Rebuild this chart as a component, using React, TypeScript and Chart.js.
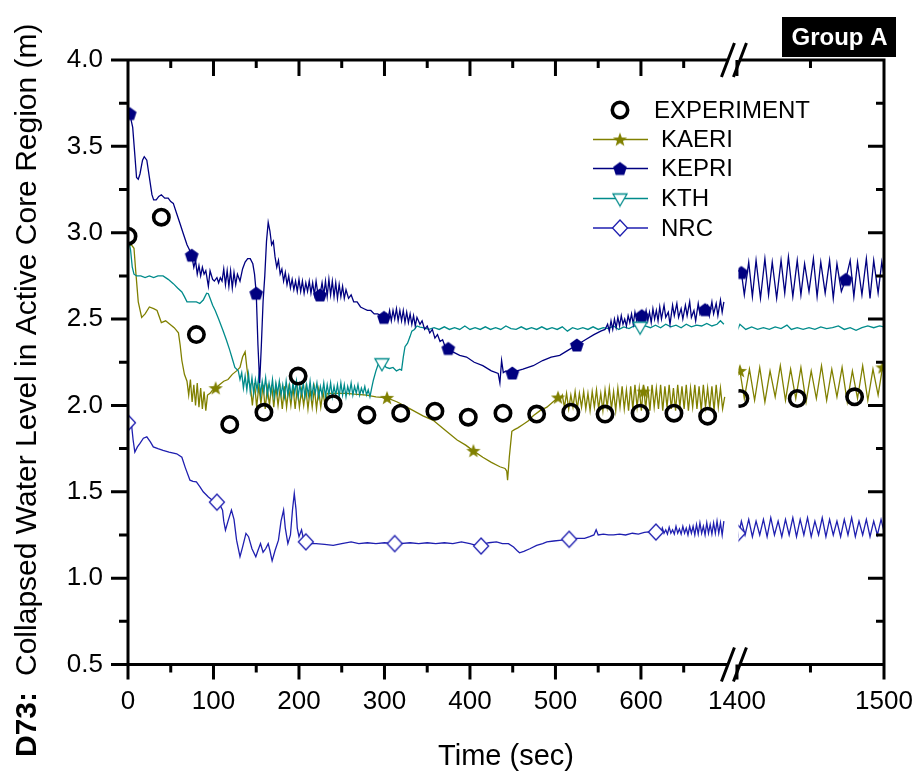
import React, { useEffect, useRef } from 'react';
import { Chart, registerables, LinearScale } from 'chart.js';

Chart.register(...registerables);

const FONT = "'Liberation Sans', Arial, Helvetica, sans-serif";

// ---------------- axis ticks ----------------
const X_TICKS = [0, 50, 100, 150, 200, 250, 300, 350, 400, 450, 500, 550, 600, 650, 1400, 1450, 1500];
const X_LABELS = [0, 100, 200, 300, 400, 500, 600, 1400, 1500];
const Y_TICKS = [0.5, 0.75, 1, 1.25, 1.5, 1.75, 2, 2.25, 2.5, 2.75, 3, 3.25, 3.5, 3.75, 4];
const Y_LABELS = [0.5, 1, 1.5, 2, 2.5, 3, 3.5, 4];

// ---------------- data (time s, level m) ----------------
const EXPERIMENT: [number, number][] = [
  [0, 2.98], [39, 3.09], [80, 2.41], [119, 1.89], [159, 1.96], [199, 2.17], [240, 2.01], [279.5, 1.945],
  [319, 1.955], [359, 1.967], [398, 1.932], [438.6, 1.955], [478, 1.95], [518, 1.961], [558, 1.95],
  [599, 1.955], [638.6, 1.955], [678, 1.938], [1402, 2.04], [1441, 2.04], [1480, 2.05],
];

const KAERI: [number, number][] = [
  [0, 2.92], [4, 2.93], [7, 2.91], [9, 2.78], [12, 2.6], [16, 2.51], [20, 2.53], [25, 2.57], [30, 2.56], [34, 2.55],
  [39, 2.48], [44, 2.49], [49, 2.47], [54, 2.45], [59, 2.42], [61, 2.35], [63, 2.26], [66, 2.18], [69, 2.14],
  [71, 2.06], [73, 2.15], [75, 2.02], [77, 2.12], [79, 2.0], [81, 2.13], [83, 1.99], [85, 2.1], [87, 1.98],
  [89, 2.08], [91, 1.97], [93, 2.06], [96, 2.07], [99, 2.09], [102.5, 2.1], [107, 2.12], [112, 2.14], [117, 2.15],
  [122, 2.18], [127, 2.2], [131, 2.22], [134, 2.28], [137, 2.31], [139, 2.22], [141, 2.14],
  [143, 2.12], [145.5, 2.0], [148, 2.13], [150.5, 1.99], [153, 2.11], [155.5, 2.01], [158, 2.12], [160.5, 1.98],
  [163, 2.1], [165.5, 2.0], [168, 2.12], [170.5, 1.99], [173, 2.11], [175.5, 2.0], [178, 2.1], [180.5, 1.98],
  [183, 2.11], [185.5, 1.99], [188, 2.1], [190.5, 2.0], [193, 2.11], [195.5, 1.98], [198, 2.1], [200.5, 1.99],
  [203, 2.09], [205.5, 2.0], [208, 2.1], [210.5, 1.98], [213, 2.09], [215.5, 1.99], [218, 2.1], [220.5, 1.98],
  [223, 2.09], [225.5, 1.99], [228, 2.08], [230.5, 2.0], [233, 2.07],
  [236, 2.07], [245, 2.07], [255, 2.07], [265, 2.065], [279, 2.06], [290, 2.05], [303, 2.044], [315, 2.02],
  [330, 1.98], [345, 1.94], [357, 1.914], [370, 1.86], [385, 1.8], [395, 1.77], [404, 1.737], [415, 1.7],
  [425, 1.67], [435, 1.645], [441, 1.635], [443, 1.62], [444, 1.567], [446, 1.7], [449, 1.85], [452, 1.86],
  [456, 1.87], [462, 1.89], [468, 1.91], [474, 1.94], [482, 1.97], [490, 1.99], [497, 2.02], [503, 2.046], [506, 2.04],
  [508, 2.06], [510.5, 1.99], [513, 2.07], [515.5, 1.98], [518, 2.06], [520.5, 1.99], [523, 2.08], [525.5, 1.98],
  [528, 2.07], [530.5, 1.99], [533, 2.08], [535.5, 1.98], [538, 2.07], [540.5, 1.97], [543, 2.08], [545.5, 1.99],
  [548, 2.09], [550.5, 1.98], [553, 2.07], [555.5, 1.97], [558, 2.09], [560.5, 1.99], [563, 2.1], [565.5, 1.98],
  [568, 2.08], [570.5, 1.97], [573, 2.1], [575.5, 1.99], [578, 2.11], [580.5, 1.98], [583, 2.09], [585.5, 1.97],
  [588, 2.11], [590.5, 1.98], [593, 2.12], [595.5, 1.99], [598, 2.1], [600.5, 1.97], [603, 2.12], [605.5, 1.98],
  [608, 2.11], [610.5, 1.97], [613, 2.12], [615.5, 1.99], [618, 2.1], [620.5, 1.98], [623, 2.12], [625.5, 1.97],
  [628, 2.11], [630.5, 1.99], [633, 2.12], [635.5, 1.98], [638, 2.1], [640.5, 1.97], [643, 2.12], [645.5, 1.99],
  [648, 2.11], [650.5, 1.98], [653, 2.12], [655.5, 1.97], [658, 2.1], [660.5, 1.99], [663, 2.12], [665.5, 1.98],
  [668, 2.11], [670.5, 1.97], [673, 2.12], [675.5, 1.99], [678, 2.1], [680.5, 1.98], [683, 2.11], [685.5, 1.97],
  [688, 2.12], [690.5, 1.99], [693, 2.1], [695.5, 1.98], [698, 2.05],
  [1400, 2.18], [1402, 2.2], [1405, 2.04], [1408.5, 2.21], [1412, 2.03], [1415.5, 2.22], [1419, 2.02], [1422.5, 2.2],
  [1426, 2.05], [1429.5, 2.23], [1433, 2.03], [1436.5, 2.21], [1440, 2.04], [1443.5, 2.22], [1447, 2.02], [1450.5, 2.2],
  [1454, 2.04], [1457.5, 2.23], [1461, 2.03], [1464.5, 2.21], [1468, 2.05], [1471.5, 2.22], [1475, 2.02], [1478.5, 2.2],
  [1482, 2.04], [1485.5, 2.23], [1489, 2.03], [1492.5, 2.21], [1496, 2.06], [1499, 2.22], [1500, 2.2],
];
const KAERI_MARKS: [number, number][] = [
  [102.5, 2.1], [303, 2.044], [404, 1.737], [503, 2.046], [603, 2.08], [1402, 2.2], [1499, 2.22],
];

const KEPRI: [number, number][] = [
  [0, 3.7], [2, 3.69], [5.5, 3.61], [8, 3.45], [10, 3.32], [12, 3.31], [14, 3.34], [17, 3.42], [19, 3.44], [22, 3.42],
  [25, 3.32], [28, 3.22], [30, 3.19], [33, 3.19], [36, 3.21], [39, 3.22], [43, 3.2], [47, 3.2], [50, 3.18], [53, 3.17],
  [57, 3.11], [61, 3.05], [65, 2.99], [69, 2.93], [72, 2.9], [74.5, 2.87], [77, 2.8], [79, 2.84], [81, 2.76], [83, 2.81],
  [85, 2.75], [87, 2.8], [89, 2.76], [91, 2.78], [94, 2.69], [96, 2.78], [99, 2.73], [101, 2.72], [104, 2.74],
  [106, 2.71], [108, 2.74], [110, 2.72], [112, 2.79], [114, 2.7], [116, 2.78], [118, 2.69], [120, 2.78], [122, 2.68],
  [124, 2.77], [126, 2.7], [128, 2.76], [131, 2.72], [134, 2.79], [137, 2.83], [140, 2.85], [143, 2.85], [146, 2.82],
  [148, 2.76], [150, 2.65], [152, 2.35], [154, 2.13], [156, 2.35], [158, 2.6], [160, 2.75], [162, 2.95], [164, 3.06],
  [166, 3.01], [168, 2.93], [170, 2.95], [172, 2.86], [174, 2.8], [176, 2.84], [178, 2.76], [180, 2.79], [182, 2.72],
  [184, 2.77], [186, 2.7], [188, 2.75], [190, 2.68], [192, 2.73], [194, 2.67], [196, 2.72], [198, 2.66], [200, 2.73],
  [202, 2.66], [204, 2.72], [206, 2.65], [208, 2.71], [210, 2.66], [212, 2.72], [214, 2.65], [216, 2.71], [218, 2.64],
  [220, 2.72], [222, 2.65], [224.6, 2.64], [227, 2.71], [229, 2.64], [231, 2.72], [233, 2.63], [235, 2.73], [237, 2.64],
  [239, 2.72], [241, 2.63], [243, 2.71], [245, 2.62], [247, 2.7], [249, 2.63], [251, 2.69], [253, 2.62], [255, 2.67],
  [258, 2.62], [261, 2.64], [264, 2.6], [268, 2.6], [272, 2.57], [276, 2.56], [280, 2.55], [284, 2.55], [288, 2.53],
  [292, 2.53], [296, 2.52], [299.4, 2.51], [302, 2.53], [304, 2.5], [306, 2.55], [308, 2.49], [310, 2.55], [312, 2.5],
  [314, 2.56], [316, 2.49], [318, 2.55], [320, 2.49], [322, 2.55], [324, 2.48], [326, 2.54], [328, 2.48], [330, 2.53],
  [332, 2.47], [334, 2.52], [336, 2.46], [338, 2.51], [341.5, 2.47], [344, 2.49], [347, 2.44], [350, 2.46], [353, 2.42],
  [356, 2.44], [359, 2.39], [362, 2.41], [365, 2.37], [368, 2.38], [371, 2.34], [374.6, 2.33], [380, 2.31], [388, 2.29],
  [396, 2.28], [405, 2.25], [415, 2.23], [425, 2.2], [433, 2.185], [435, 2.13], [437, 2.26], [439, 2.19], [442, 2.2],
  [446, 2.19], [449.5, 2.188], [455, 2.2], [462, 2.21], [474, 2.23], [485, 2.26], [495, 2.28], [505, 2.29], [515, 2.32],
  [525, 2.35], [535, 2.38], [545, 2.41], [553, 2.43], [558, 2.44], [561, 2.47], [563, 2.43], [565, 2.49], [567, 2.44],
  [569, 2.5], [571, 2.45], [573, 2.51], [575, 2.46], [577, 2.52], [579, 2.47], [581, 2.5], [583, 2.46], [585, 2.52],
  [587, 2.48], [589, 2.53], [591, 2.47], [593, 2.54], [595, 2.49], [597, 2.52], [601, 2.52], [604, 2.5], [606, 2.55],
  [608, 2.49], [610, 2.54], [612, 2.48], [614, 2.56], [616, 2.5], [618, 2.55], [620, 2.49], [622, 2.57], [624, 2.5],
  [627, 2.58], [629, 2.51], [632, 2.54], [634, 2.47], [637, 2.58], [639, 2.52], [642, 2.59], [644, 2.51], [647, 2.56],
  [649, 2.5], [652, 2.58], [654, 2.52], [657, 2.6], [659, 2.51], [662, 2.55], [664, 2.49], [667, 2.59], [669, 2.53],
  [672, 2.57], [675, 2.555], [678, 2.58], [680, 2.52], [683, 2.6], [685, 2.53], [688, 2.59], [690, 2.52], [693, 2.61],
  [695, 2.54], [697, 2.6],
  [1400, 2.77], [1401, 2.78], [1403, 2.77], [1405, 2.64], [1408, 2.83], [1410.5, 2.63], [1413, 2.84], [1416, 2.62],
  [1419, 2.85], [1421.5, 2.64], [1424, 2.83], [1427, 2.62], [1430, 2.84], [1432.5, 2.65], [1435, 2.86], [1438, 2.63],
  [1441, 2.84], [1443.5, 2.64], [1446, 2.82], [1449, 2.66], [1452, 2.85], [1454.5, 2.63], [1457, 2.83], [1460, 2.65],
  [1463, 2.84], [1465.5, 2.62], [1468, 2.82], [1471, 2.66], [1474, 2.73], [1477, 2.84], [1479.5, 2.63], [1482, 2.83],
  [1485, 2.64], [1488, 2.85], [1490.5, 2.62], [1493, 2.84], [1496, 2.65], [1498.5, 2.83], [1500, 2.75],
];
const KEPRI_MARKS: [number, number][] = [
  [2, 3.69], [74.5, 2.87], [150, 2.65], [224.6, 2.64], [299.4, 2.51], [374.6, 2.33], [449.5, 2.188], [525, 2.35],
  [601, 2.52], [675, 2.555], [1403, 2.77], [1474, 2.73],
];

const KTH: [number, number][] = [
  [0, 2.93], [1.5, 2.94], [3, 2.9], [5, 2.8], [7, 2.76], [10, 2.75], [15, 2.75], [20, 2.74], [25, 2.75], [30, 2.74],
  [35, 2.75], [41, 2.75], [47, 2.73], [53, 2.705], [58, 2.68], [63, 2.657], [66, 2.63], [69, 2.6], [74, 2.6], [80, 2.6],
  [84, 2.59], [88, 2.61], [90, 2.63], [92, 2.65], [94, 2.647], [96, 2.62], [99, 2.58], [102, 2.55], [106, 2.5],
  [111, 2.435], [115, 2.38], [119, 2.32], [122, 2.27], [125, 2.22], [129, 2.2],
  [131, 2.15], [133, 2.19], [135, 2.1], [137, 2.17], [139, 2.09], [141, 2.18], [143, 2.08], [145, 2.16], [147, 2.07],
  [149, 2.15], [151, 2.09], [153, 2.17], [155, 2.06], [157, 2.14], [159, 2.08], [161, 2.16], [163, 2.06], [165, 2.13],
  [167, 2.07], [169, 2.15], [171, 2.05], [173, 2.13], [175, 2.07], [177, 2.14], [179, 2.06], [181, 2.12], [183, 2.05],
  [185, 2.14], [187, 2.06], [189, 2.12], [191, 2.05], [193, 2.13], [195, 2.07], [197, 2.14], [199, 2.05], [201, 2.12],
  [203, 2.06], [205, 2.13], [207, 2.05], [209, 2.12], [211, 2.06], [213, 2.14], [215, 2.05], [217, 2.12], [219, 2.07],
  [221, 2.13], [223, 2.05], [225, 2.11], [227, 2.06], [229, 2.13], [231, 2.05], [233, 2.12], [235, 2.06], [237, 2.13],
  [239, 2.05], [241, 2.11], [243, 2.06], [245, 2.12], [247, 2.05], [249, 2.13], [251, 2.06], [253, 2.12], [255, 2.05],
  [257, 2.11], [259, 2.07], [261, 2.13], [263, 2.06], [265, 2.11], [267, 2.07], [269, 2.12], [271, 2.06], [273, 2.1],
  [275, 2.07], [277, 2.11], [279, 2.06], [281, 2.09], [283, 2.05],
  [285, 2.1], [287, 2.146], [290, 2.2], [292.8, 2.24], [295, 2.25], [298, 2.246], [302, 2.22], [306, 2.214],
  [310, 2.22], [314, 2.2], [318, 2.21], [320, 2.204], [322, 2.28], [324, 2.34], [327, 2.36], [330, 2.4], [332, 2.43],
  [335, 2.44], [338, 2.46], [341.5, 2.454],
  [345, 2.45], [352, 2.44], [358, 2.45], [364, 2.44], [370, 2.455], [376, 2.44], [382, 2.45], [388, 2.44], [394, 2.46],
  [400, 2.44], [406, 2.45], [412, 2.44], [418, 2.455], [424, 2.44], [430, 2.45], [436, 2.44], [442, 2.46], [448, 2.445],
  [454, 2.44], [460, 2.455], [466, 2.44], [472, 2.45], [478, 2.44], [484, 2.455], [490, 2.44], [496, 2.45], [502, 2.44],
  [508, 2.455], [514, 2.43], [520, 2.45], [526, 2.44], [532, 2.45], [538, 2.44], [544, 2.455], [550, 2.44], [556, 2.45],
  [562, 2.445], [568, 2.46], [574, 2.44], [580, 2.455], [586, 2.445], [592, 2.46], [599, 2.454], [605, 2.46],
  [611, 2.45], [617, 2.465], [623, 2.45], [629, 2.47], [635, 2.455], [641, 2.465], [647, 2.45], [653, 2.47],
  [659, 2.455], [665, 2.465], [671, 2.46], [677, 2.475], [683, 2.46], [689, 2.47], [693, 2.49], [697, 2.47],
  [1400, 2.43], [1402, 2.47], [1406, 2.44], [1410, 2.455], [1414, 2.44], [1418, 2.45], [1422, 2.44], [1426, 2.455],
  [1430, 2.445], [1434, 2.465], [1437, 2.44], [1441, 2.45], [1445, 2.44], [1449, 2.45], [1453, 2.44], [1457, 2.455],
  [1461, 2.445], [1465, 2.45], [1469, 2.46], [1473, 2.44], [1477, 2.45], [1481, 2.435], [1485, 2.45], [1489, 2.46],
  [1493, 2.45], [1497, 2.46], [1500, 2.455],
];
const KTH_MARKS: [number, number][] = [[297, 2.244], [599, 2.456]];

const NRC: [number, number][] = [
  [0, 1.9], [2, 1.9], [4, 1.895], [6, 1.8], [8, 1.73], [11, 1.76], [14, 1.78], [18, 1.81], [22, 1.818], [26, 1.79],
  [29.6, 1.76], [35, 1.75], [41, 1.74], [48, 1.73], [57, 1.72], [63, 1.7], [67, 1.64], [72.5, 1.567], [76, 1.56],
  [80, 1.557], [84, 1.53], [88, 1.5], [94, 1.47], [99, 1.45], [104, 1.44], [108, 1.42], [110.6, 1.394], [112, 1.33],
  [114, 1.278], [117, 1.33], [121, 1.394], [124, 1.34], [127, 1.22], [131, 1.124], [134, 1.18], [138, 1.259],
  [141, 1.24], [145, 1.17], [149.5, 1.124], [152, 1.16], [155, 1.2], [158, 1.15], [161, 1.17], [164, 1.2], [166, 1.16],
  [168.6, 1.1], [172, 1.16], [176, 1.22], [179, 1.33], [182, 1.394], [184, 1.29], [187, 1.2], [190, 1.25], [192.5, 1.4],
  [194.5, 1.49], [196.5, 1.4], [198, 1.29], [200, 1.24], [203, 1.28], [206, 1.21], [208, 1.22], [212, 1.2], [220, 1.2],
  [230, 1.195], [240, 1.19], [250, 1.2], [261, 1.21], [270, 1.2], [280, 1.205], [290, 1.2], [300, 1.205], [312, 1.2],
  [318, 1.2], [330, 1.205], [340, 1.2], [350, 1.205], [360, 1.2], [370, 1.205], [380, 1.2], [390, 1.21], [400, 1.2],
  [407, 1.19], [413, 1.186], [418, 1.2], [422, 1.205], [431, 1.21], [438, 1.2], [445, 1.2], [451, 1.18], [455, 1.16],
  [458, 1.147], [463, 1.155], [470, 1.17], [478, 1.19], [485, 1.2], [490, 1.21], [498, 1.215], [507.5, 1.22],
  [516, 1.225], [525, 1.23], [534, 1.23], [540, 1.24], [545, 1.25], [547.6, 1.28], [550, 1.25], [556, 1.255],
  [562, 1.25], [568, 1.25], [575, 1.255], [582, 1.25], [590, 1.26], [597, 1.255], [604, 1.265], [609, 1.268],
  [613, 1.26], [615, 1.27], [617.5, 1.267], [619, 1.26], [621, 1.28], [623, 1.255], [625, 1.29], [627, 1.26],
  [629, 1.28], [631, 1.255], [633, 1.295], [635, 1.26], [637, 1.28], [639, 1.255], [641, 1.3], [643, 1.26],
  [645, 1.285], [647, 1.255], [649, 1.3], [651, 1.26], [653, 1.29], [655, 1.25], [657, 1.3], [659, 1.26], [661, 1.3],
  [663, 1.25], [665, 1.31], [667, 1.255], [669, 1.32], [671, 1.26], [673, 1.3], [675, 1.25], [677, 1.32], [679, 1.26],
  [681, 1.31], [683, 1.255], [685, 1.32], [687, 1.26], [689, 1.33], [691, 1.26], [693, 1.32], [695, 1.25], [697, 1.33],
  [1400, 1.26], [1401, 1.24], [1403, 1.33], [1405.5, 1.25], [1408, 1.34], [1410.5, 1.24], [1413, 1.33], [1415.5, 1.25],
  [1418, 1.34], [1420.5, 1.24], [1423, 1.35], [1425.5, 1.25], [1428, 1.33], [1430.5, 1.24], [1433, 1.34], [1435.5, 1.25],
  [1438, 1.35], [1440.5, 1.24], [1443, 1.34], [1445.5, 1.25], [1448, 1.35], [1450.5, 1.24], [1453, 1.33], [1455.5, 1.25],
  [1458, 1.35], [1460.5, 1.24], [1463, 1.34], [1465.5, 1.25], [1468, 1.33], [1470.5, 1.24], [1473, 1.34], [1475.5, 1.25],
  [1478, 1.35], [1480.5, 1.24], [1483, 1.33], [1485.5, 1.25], [1488, 1.34], [1490.5, 1.24], [1493, 1.33], [1495.5, 1.25],
  [1498, 1.34], [1500, 1.27],
];
const NRC_MARKS: [number, number][] = [
  [0, 1.9], [104, 1.44], [208, 1.21], [312, 1.2], [413, 1.186], [516, 1.225], [617.5, 1.267], [1400.7, 1.26],
];

// ---------------- styles ----------------
const C_EXP = '#000000';
const C_KAERI = '#808000';
const C_KEPRI = '#000080';
const C_KTH = '#008b8b';
const C_NRC = '#1f1fb0';

// ---------------- broken x axis ----------------
const LEFT_END = 700;
const RIGHT_START = 1400;
const RIGHT_END = 1500;
const GAP_UNITS = 12.3;
const RIGHT_STRETCH = 1.72;
const U_MAX = LEFT_END + GAP_UNITS + (RIGHT_END - RIGHT_START) * RIGHT_STRETCH;

function toU(t: number) {
  return t <= (LEFT_END + RIGHT_START) / 2 ? t : LEFT_END + GAP_UNITS + (t - RIGHT_START) * RIGHT_STRETCH;
}
function fromU(u: number) {
  return u <= LEFT_END + GAP_UNITS / 2 ? u : RIGHT_START + (u - LEFT_END - GAP_UNITS) / RIGHT_STRETCH;
}

class BrokenScale extends LinearScale {
  static id = 'broken';
  static defaults = {};
  buildTicks() {
    return X_TICKS.map((v) => ({ value: v }));
  }
  getPixelForValue(value: any) {
    if (value === null || value === undefined || isNaN(value)) return NaN;
    return this.getPixelForDecimal(toU(value) / U_MAX);
  }
  getValueForPixel(pixel: number) {
    return fromU(this.getDecimalForPixel(pixel) * U_MAX);
  }
}
Chart.register(BrokenScale as any);

function toXY(arr: [number, number][]) {
  return arr.map(([x, y]) => ({ x, y }));
}
function withBreak(arr: [number, number][]) {
  const left = arr.filter((p) => p[0] <= LEFT_END);
  const right = arr.filter((p) => p[0] >= RIGHT_START);
  return [...toXY(left), { x: 1050, y: null as any }, ...toXY(right)];
}

function makeMarker(size: number, draw: (c: CanvasRenderingContext2D, m: number) => void) {
  const cv = document.createElement('canvas');
  cv.width = size;
  cv.height = size;
  const c = cv.getContext('2d')!;
  draw(c, size / 2);
  return cv;
}

function polygonPath(c: CanvasRenderingContext2D, pts: [number, number][]) {
  c.beginPath();
  pts.forEach(([px, py], i) => (i === 0 ? c.moveTo(px, py) : c.lineTo(px, py)));
  c.closePath();
}

function buildMarkers() {
  const star = makeMarker(18, (c, m) => {
    const pts: [number, number][] = [];
    for (let i = 0; i < 10; i++) {
      const r = i % 2 === 0 ? 7.5 : 3.1;
      const a = -Math.PI / 2 + (i * Math.PI) / 5;
      pts.push([m + r * Math.cos(a), m + 0.5 + r * Math.sin(a)]);
    }
    polygonPath(c, pts);
    c.fillStyle = C_KAERI;
    c.fill();
  });
  const pent = makeMarker(18, (c, m) => {
    const pts: [number, number][] = [];
    for (let i = 0; i < 5; i++) {
      const a = -Math.PI / 2 + (i * 2 * Math.PI) / 5;
      pts.push([m + 7.2 * Math.cos(a), m + 0.6 + 7.2 * Math.sin(a)]);
    }
    polygonPath(c, pts);
    c.fillStyle = C_KEPRI;
    c.fill();
  });
  const tri = makeMarker(18, (c, m) => {
    polygonPath(c, [[m - 7, m - 4.5], [m + 7, m - 4.5], [m, m + 7.5]]);
    c.fillStyle = '#fff';
    c.fill();
    c.lineWidth = 1.3;
    c.strokeStyle = C_KTH;
    c.stroke();
  });
  const dia = makeMarker(20, (c, m) => {
    polygonPath(c, [[m, m - 8], [m + 7.5, m], [m, m + 8], [m - 7.5, m]]);
    c.fillStyle = '#fff';
    c.fill();
    c.lineWidth = 1.3;
    c.strokeStyle = C_NRC;
    c.stroke();
  });
  return { star, pent, tri, dia };
}

function makeDecor(mk: ReturnType<typeof buildMarkers>) {
  return {
    id: 'decor',
    beforeDatasetsDraw(chart: any) {
      const { ctx, chartArea: a } = chart;
      const x = chart.scales.x;
      const xl = x.getPixelForValue(LEFT_END) + 2;
      const xr = x.getPixelForValue(RIGHT_START) + 1.5;
      ctx.save();
      ctx.beginPath();
      ctx.rect(a.left, a.top - 1, xl - a.left, a.bottom - a.top + 2);
      ctx.rect(xr, a.top - 1, a.right - xr, a.bottom - a.top + 2);
      ctx.clip();
    },
    afterDatasetsDraw(chart: any) {
      const { ctx, chartArea: a } = chart;
      ctx.restore();
      const x = chart.scales.x;
      const y = chart.scales.y;
      const L = a.left, R = a.right, T = a.top, B = a.bottom;
      const s1 = x.getPixelForValue(LEFT_END) + 1.5;
      const s2 = x.getPixelForValue(RIGHT_START) + 3;
      ctx.save();
      ctx.strokeStyle = '#000';
      ctx.lineWidth = 3;
      ctx.lineCap = 'butt';
      ctx.beginPath();
      ctx.moveTo(L, T - 1.5);
      ctx.lineTo(L, B + 1.5);
      ctx.moveTo(R, T - 1.5);
      ctx.lineTo(R, B + 1.5);
      ctx.moveTo(L, T);
      ctx.lineTo(s1, T);
      ctx.moveTo(s2, T);
      ctx.lineTo(R, T);
      ctx.moveTo(L, B);
      ctx.lineTo(s1, B);
      ctx.moveTo(s2, B);
      ctx.lineTo(R, B);
      for (const t of X_TICKS) {
        const px = x.getPixelForValue(t);
        const major = X_LABELS.includes(t);
        ctx.moveTo(px, B);
        ctx.lineTo(px, B + (major ? 15 : 8));
        ctx.moveTo(px, T);
        ctx.lineTo(px, T + (major ? 16 : 8));
      }
      for (const v of Y_TICKS) {
        const py = y.getPixelForValue(v);
        const major = Y_LABELS.includes(v);
        ctx.moveTo(L, py);
        ctx.lineTo(L - (major ? 17 : 9), py);
        ctx.moveTo(R, py);
        ctx.lineTo(R - (major ? 16 : 8), py);
      }
      ctx.stroke();
      ctx.beginPath();
      for (const cx of [s1, s2]) {
        for (const cy of [T, B]) {
          ctx.moveTo(cx - 6.5, cy + 17);
          ctx.lineTo(cx + 6.5, cy - 17);
        }
      }
      ctx.stroke();
      ctx.restore();
    },
    afterDraw(chart: any) {
      const { ctx } = chart;
      ctx.save();
      // legend
      ctx.fillStyle = '#000';
      ctx.textAlign = 'left';
      ctx.textBaseline = 'middle';
      ctx.font = `24px ${FONT}`;
      ctx.beginPath();
      ctx.arc(620, 110, 7.7, 0, Math.PI * 2);
      ctx.lineWidth = 3.6;
      ctx.strokeStyle = C_EXP;
      ctx.stroke();
      ctx.fillText('EXPERIMENT', 654, 111);
      const rows: [string, string, HTMLCanvasElement, number][] = [
        ['KAERI', C_KAERI, mk.star, 139.5],
        ['KEPRI', C_KEPRI, mk.pent, 168.5],
        ['KTH', C_KTH, mk.tri, 198.5],
        ['NRC', C_NRC, mk.dia, 228],
      ];
      for (const [label, color, img, yy] of rows) {
        ctx.beginPath();
        ctx.moveTo(593, yy);
        ctx.lineTo(648, yy);
        ctx.lineWidth = 1.3;
        ctx.strokeStyle = color;
        ctx.stroke();
        ctx.drawImage(img, 620 - img.width / 2, yy - img.height / 2);
        ctx.fillStyle = '#000';
        ctx.fillText(label, 661, yy + 1);
      }
      // Group A box
      ctx.fillStyle = '#000';
      ctx.fillRect(782, 17, 114, 40);
      ctx.fillStyle = '#fff';
      ctx.textAlign = 'center';
      ctx.font = `bold 24px ${FONT}`;
      ctx.fillText('Group A', 839.5, 38);
      // x title
      ctx.fillStyle = '#000';
      ctx.font = `29px ${FONT}`;
      ctx.fillText('Time (sec)', 506, 757);
      // y title
      ctx.translate(36, 757);
      ctx.rotate(-Math.PI / 2);
      ctx.textAlign = 'left';
      ctx.textBaseline = 'alphabetic';
      ctx.font = `bold 30px ${FONT}`;
      ctx.fillText('D73:', 0, 0);
      const w = ctx.measureText('D73:').width;
      ctx.font = `30px ${FONT}`;
      ctx.fillText('Collapsed Water Level in Active Core Region (m)', w + 16, 0);
      ctx.restore();
    },
  };
}

export default function App() {
  const ref = useRef<HTMLCanvasElement>(null);
  useEffect(() => {
    if (!ref.current) return;
    const mk = buildMarkers();
    const lineDs = (label: string, arr: [number, number][], color: string) => ({
      label,
      data: withBreak(arr),
      borderColor: color,
      backgroundColor: color,
      borderWidth: 1.3,
      pointRadius: 0,
      pointHoverRadius: 0,
      tension: 0,
      fill: false,
      spanGaps: false,
      clip: false as any,
    });
    const markDs = (label: string, arr: [number, number][], img: HTMLCanvasElement) => ({
      label,
      data: toXY(arr),
      showLine: false,
      pointStyle: img,
      pointRadius: 7,
      pointHoverRadius: 7,
      clip: false as any,
    });
    const chart = new Chart(ref.current, {
      type: 'line',
      data: {
        datasets: [
          {
            label: 'EXPERIMENT',
            data: toXY(EXPERIMENT),
            showLine: false,
            pointStyle: 'circle',
            pointRadius: 7.7,
            pointHoverRadius: 7.7,
            pointBorderWidth: 3.6,
            pointBorderColor: C_EXP,
            pointBackgroundColor: 'rgba(0,0,0,0)',
            clip: false as any,
          },
          markDs('NRC markers', NRC_MARKS, mk.dia),
          markDs('KTH markers', KTH_MARKS, mk.tri),
          markDs('KEPRI markers', KEPRI_MARKS, mk.pent),
          markDs('KAERI markers', KAERI_MARKS, mk.star),
          lineDs('NRC', NRC, C_NRC),
          lineDs('KEPRI', KEPRI, C_KEPRI),
          lineDs('KTH', KTH, C_KTH),
          lineDs('KAERI', KAERI, C_KAERI),
        ] as any,
      },
      options: {
        responsive: false,
        animation: false,
        events: [],
        layout: { padding: { top: 60, right: 39, left: 0, bottom: 0 } },
        plugins: { legend: { display: false }, tooltip: { enabled: false } },
        scales: {
          x: {
            type: 'broken' as any,
            min: 0,
            max: 1500,
            grid: { display: false, drawTicks: false },
            border: { display: false },
            ticks: {
              autoSkip: false,
              maxRotation: 0,
              minRotation: 0,
              padding: 22,
              color: '#000',
              font: { family: FONT, size: 26 },
              callback: (v: any) => (X_LABELS.includes(Number(v)) ? String(v) : ''),
            },
            afterFit: (s: any) => {
              s.height = 115.5;
              s.paddingLeft = 0;
              s.paddingRight = 0;
            },
          },
          y: {
            type: 'linear',
            min: 0.5,
            max: 4.0,
            grid: { display: false, drawTicks: false },
            border: { display: false },
            afterBuildTicks: (s: any) => {
              s.ticks = Y_TICKS.map((v) => ({ value: v }));
            },
            ticks: {
              autoSkip: false,
              padding: 25,
              color: '#000',
              font: { family: FONT, size: 26 },
              callback: (v: any) => (Y_LABELS.includes(Number(v)) ? Number(v).toFixed(1) : ''),
            },
            afterFit: (s: any) => {
              s.width = 128;
              s.paddingTop = 0;
              s.paddingBottom = 0;
            },
          },
        },
      } as any,
      plugins: [makeDecor(mk)],
    });
    return () => chart.destroy();
  }, []);
  return (
    <div style={{ position: 'absolute', left: 0, top: 0, width: 923, height: 780, background: '#fff' }}>
      <canvas ref={ref} width={923} height={780} style={{ display: 'block' }} />
    </div>
  );
}
